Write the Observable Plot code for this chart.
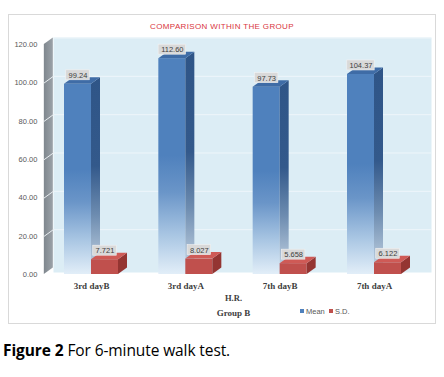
<!DOCTYPE html>
<html>
<head>
<meta charset="utf-8">
<script src="https://cdn.jsdelivr.net/npm/d3@7"></script>
<script src="https://cdn.jsdelivr.net/npm/@observablehq/plot@0.6"></script>
<style>
  html, body { margin: 0; padding: 0; background: #fff; }
  body { width: 444px; height: 377px; position: relative; overflow: hidden; font-family: "Liberation Sans", Arial, sans-serif; }
  #box { position: absolute; left: 8px; top: 14px; width: 426px; height: 308px; border: 1px solid #d9d9d9; }
  #chart { position: absolute; left: 8px; top: 14px; }
  #title { position: absolute; left: 8px; width: 428px; top: 22px; text-align: center; margin-left: 0px;
           font: 8px "Liberation Sans", sans-serif; letter-spacing: 0.35px; color: #d9363e; }
  #legend { position: absolute; left: 300px; top: 307px; font: 7.5px "Liberation Sans", sans-serif; color: #595959; white-space: nowrap; }
  #legend span.sw { display: inline-block; width: 4px; height: 4px; margin-right: 2px; vertical-align: 1px; }
  #caption { position: absolute; left: 3px; top: 343px; font: 15.5px/15.5px "Open Sans", sans-serif; color: #000; white-space: nowrap; letter-spacing: -0.1px; }
</style>
</head>
<body>
<div id="box"></div>
<div id="chart"></div>
<div id="title">COMPARISON WITHIN THE GROUP</div>
<div id="legend"><span class="sw" style="background:#4f81bd"></span>Mean&nbsp;&nbsp;<span class="sw" style="background:#c0504d"></span>S.D.</div>
<div id="caption"><b>Figure 2</b> For 6-minute walk test.</div>
<script>
// ---- data ----
const categories = ["3rd dayB", "3rd dayA", "7th dayB", "7th dayA"];
const meanValues = [99.24, 112.60, 97.73, 104.37];
const sdValues = [7.721, 8.027, 5.658, 6.122];
const yTicks = [0, 20, 40, 60, 80, 100, 120];
const seriesNames = ["Mean", "S.D."];
const xAxisTitle = "H.R.";
const groupLabel = "Group B";

// ---- geometry helpers (pixel sizes converted to data units) ----
const W = 428, H = 310;
const xRange = [83, 366], yRange = [260, 30];
const pxX = (xRange[1] - xRange[0]) / 3;
const pxY = (yRange[0] - yRange[1]) / 120;
const ux = p => p / pxX, uy = p => p / pxY;
const dxU = ux(9), dyU = uy(6.5), wU = ux(27);
const idx = categories.map((_, i) => i);

function sidePoly(vals, off) {
  return idx.flatMap(i => [
    {i, x: i + off, y1: 0, y2: vals[i]},
    {i, x: i + off + dxU, y1: dyU, y2: vals[i] + dyU}
  ]);
}
function topPoly(vals, x0) {
  return idx.flatMap(i => [
    {i, y: vals[i], x1: i + x0, x2: i + x0 + wU},
    {i, y: vals[i] + dyU, x1: i + x0 + dxU, x2: i + x0 + wU + dxU}
  ]);
}
const meanSide = sidePoly(meanValues, 0);
const meanTop = topPoly(meanValues, -wU);
const sdSide = sidePoly(sdValues, wU);
const sdTop = topPoly(sdValues, 0);

const labelData = [
  ...idx.map(i => ({c: i - wU / 2, v: meanValues[i], t: d3.format(".2f")(meanValues[i])})),
  ...idx.map(i => ({c: i + wU / 2, v: sdValues[i], t: d3.format(".3f")(sdValues[i])}))
];
const boxHalf = d => ux((d.t.length * 3.9 + 4) / 2);

// wall
const wallFront = -0.5;
const wall = [
  {x: wallFront, y1: 0, y2: 120},
  {x: wallFront + dxU, y1: dyU, y2: 120 + dyU}
];
const wallTicks = yTicks.slice(1, -1).flatMap(t => [
  {t, x: wallFront, y: t}, {t, x: wallFront + dxU, y: t + dyU}
]);

const plot = Plot.plot({
  width: W, height: H,
  marginLeft: 45, marginRight: 5, marginTop: 23, marginBottom: 52,
  x: {domain: [0, 3], range: xRange, axis: null},
  y: {domain: [0, 120], range: yRange, axis: null},
  style: {fontFamily: "Liberation Sans, sans-serif"},
  marks: [
    Plot.frame({fill: "#dcedf5", stroke: "none"}),
    Plot.ruleY(yTicks.slice(1), {y: d => d + dyU, x1: wallFront + dxU, x2: 3 + ux(57), stroke: "#eef6fa", strokeWidth: 1}),
    Plot.areaY(wall, {x: "x", y1: "y1", y2: "y2", fill: "url(#gWall)"}),
    Plot.line(wallTicks, {x: "x", y: "y", z: "t", stroke: "#e9eef1", strokeWidth: 1}),
    Plot.text(yTicks, {x: wallFront, y: d => d, dx: -7, text: d => d3.format(".2f")(d), textAnchor: "end", fontSize: 7.5, fill: "#595959"}),
    // mean bars
    Plot.rect(idx, {x1: i => i - wU, x2: i => i, y1: 0, y2: i => meanValues[i], fill: "url(#gMean)"}),
    Plot.areaY(meanSide, {x: "x", y1: "y1", y2: "y2", z: "i", fill: "url(#gMeanSide)"}),
    Plot.areaX(meanTop, {y: "y", x1: "x1", x2: "x2", z: "i", fill: "#3f6ca6"}),
    // sd bars
    Plot.rect(idx, {x1: i => i, x2: i => i + wU, y1: 0, y2: i => sdValues[i], fill: "#c0504d"}),
    Plot.areaY(sdSide, {x: "x", y1: "y1", y2: "y2", z: "i", fill: "#943532"}),
    Plot.areaX(sdTop, {y: "y", x1: "x1", x2: "x2", z: "i", fill: "#cf5a56"}),
    // value labels
    Plot.rect(labelData, {x1: d => d.c - boxHalf(d), x2: d => d.c + boxHalf(d), y1: d => d.v + uy(4), y2: d => d.v + uy(14), fill: "#d9d9d9", stroke: "#f2f2f2", strokeWidth: 0.6}),
    Plot.text(labelData, {x: "c", y: "v", dy: -9, text: "t", fontSize: 7.5, fill: "#404040"}),
    // category labels
    Plot.text(categories, {x: (d, i) => i, y: 0, dy: 11.5, text: d => d, fontFamily: "Liberation Serif, serif", fontWeight: "bold", fontSize: 9, fill: "#404040"}),
    Plot.text([xAxisTitle], {frameAnchor: "bottom", dx: -9, dy: 28, text: d => d, fontFamily: "Liberation Serif, serif", fontWeight: "bold", fontSize: 8.5, fill: "#404040"}),
    Plot.text([groupLabel], {frameAnchor: "bottom", dx: -9, dy: 43, text: d => d, fontFamily: "Liberation Serif, serif", fontWeight: "bold", fontSize: 9, fill: "#404040"})
  ]
});

const defs = d3.select(plot).insert("defs", ":first-child");
function grad(id, stops, horizontal) {
  const g = defs.append("linearGradient").attr("id", id)
    .attr("x1", 0).attr("y1", 0).attr("x2", horizontal ? 1 : 0).attr("y2", horizontal ? 0 : 1);
  stops.forEach(([o, c]) => g.append("stop").attr("offset", o).attr("stop-color", c));
}
grad("gMean", [[0, "#4f81bd"], [0.45, "#4f81bd"], [0.62, "#6a95c8"], [0.82, "#a9c6e3"], [1, "#e2eef8"]]);
grad("gMeanSide", [[0, "#2f5587"], [0.45, "#33598b"], [0.7, "#6d8cb0"], [1, "#cad9e7"]]);
grad("gWall", [[0, "#7f878e"], [1, "#9ba2a8"]], true);

document.getElementById("chart").appendChild(plot);
</script>
</body>
</html>
